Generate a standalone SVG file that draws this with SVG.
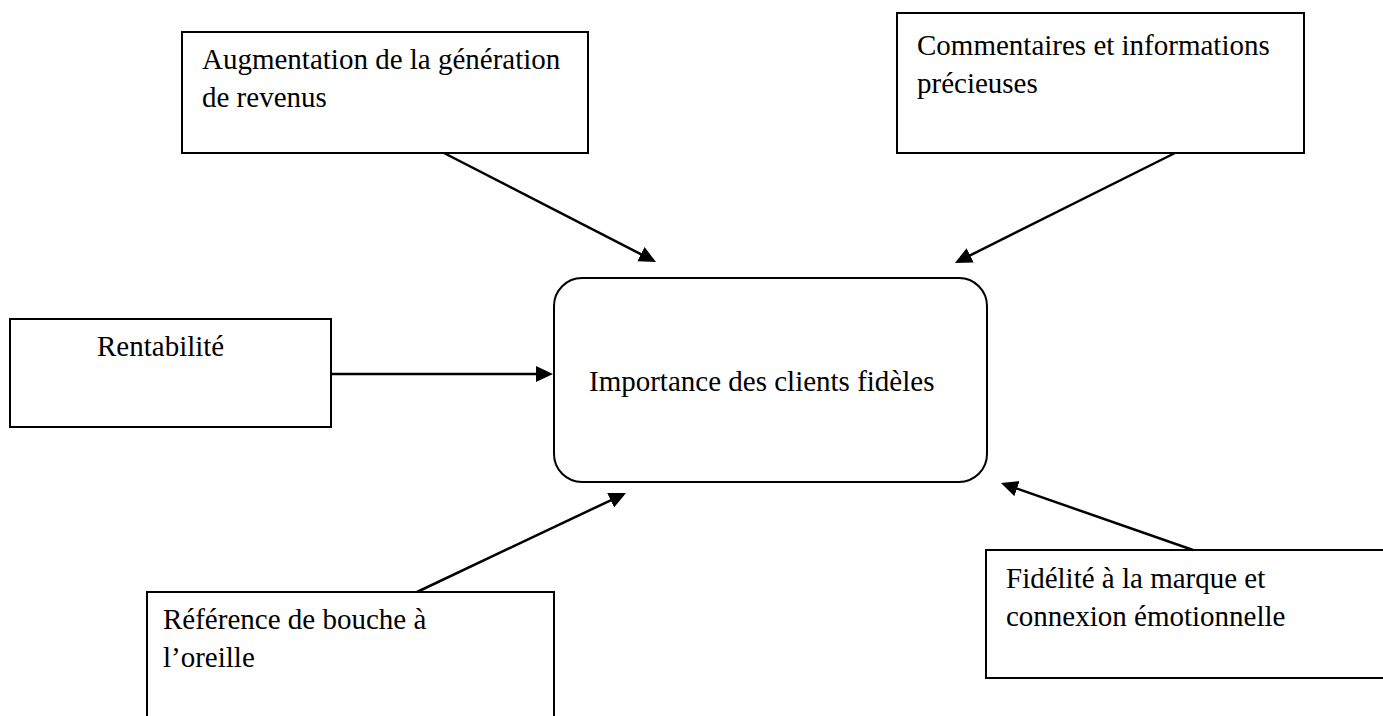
<svg xmlns="http://www.w3.org/2000/svg" width="1383" height="716" viewBox="0 0 1383 716">
  <style>
    .box { fill: #ffffff; stroke: #000000; stroke-width: 2; }
    .lbl { font-family: "Liberation Serif", "Times New Roman", serif; font-size: 29px; fill: #000000; }
    .link { stroke: #000000; stroke-width: 2.5; fill: none; marker-end: url(#arrow); }
  </style>
  <defs>
    <marker id="arrow" markerUnits="userSpaceOnUse" markerWidth="18" markerHeight="17" refX="7" refY="8" orient="auto">
      <path d="M0,0 L17,8 L0,16 z" fill="#000000"/>
    </marker>
  </defs>
  <rect width="1383" height="716" fill="#ffffff"/>

  <g id="node-revenus">
    <rect class="box" x="182" y="32" width="406" height="121"/>
    <text class="lbl" x="202" y="69">Augmentation de la génération</text>
    <text class="lbl" x="202" y="107">de revenus</text>
  </g>

  <g id="node-commentaires">
    <rect class="box" x="897" y="13" width="407" height="140"/>
    <text class="lbl" x="917" y="55">Commentaires et informations</text>
    <text class="lbl" x="917" y="93">précieuses</text>
  </g>

  <g id="node-rentabilite">
    <rect class="box" x="10" y="319" width="321" height="108"/>
    <text class="lbl" x="97" y="356">Rentabilité</text>
  </g>

  <g id="node-centre">
    <rect class="box" x="554" y="278" width="433" height="204" rx="28" ry="28"/>
    <text class="lbl" x="589" y="391">Importance des clients fidèles</text>
  </g>

  <g id="node-bouche">
    <rect class="box" x="147" y="592" width="407" height="140"/>
    <text class="lbl" x="163" y="629">Référence de bouche à</text>
    <text class="lbl" x="163" y="667">l’oreille</text>
  </g>

  <g id="node-fidelite">
    <rect class="box" x="986" y="550" width="410" height="128"/>
    <text class="lbl" x="1006" y="588">Fidélité à la marque et</text>
    <text class="lbl" x="1006" y="626">connexion émotionnelle</text>
  </g>

  <g id="connectors">
    <line class="link" x1="444" y1="153" x2="647.1" y2="257.4"/>
    <line class="link" x1="1175" y1="153" x2="963.9" y2="258.5"/>
    <line class="link" x1="331" y1="374" x2="543" y2="374"/>
    <line class="link" x1="417" y1="592" x2="617" y2="497.3"/>
    <line class="link" x1="1193" y1="550" x2="1010.4" y2="486.3"/>
  </g>
</svg>
